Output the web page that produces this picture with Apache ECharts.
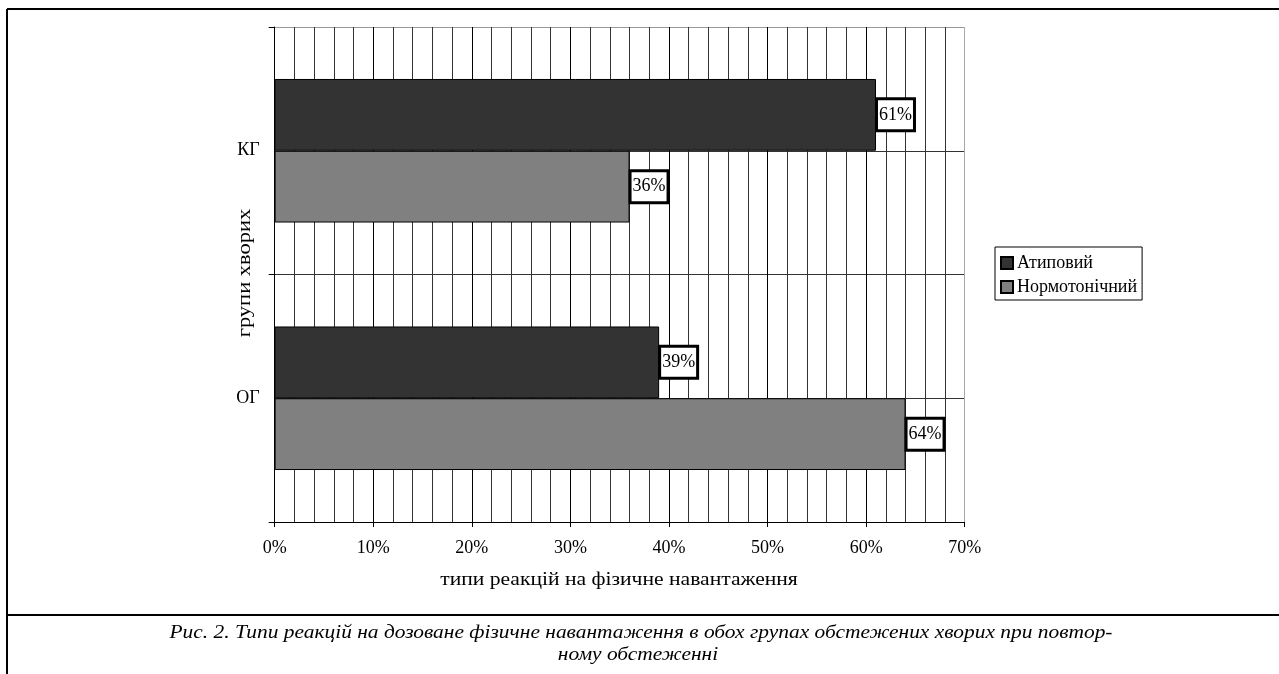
<!DOCTYPE html>
<html>
<head>
<meta charset="utf-8">
<script src="https://cdn.jsdelivr.net/npm/echarts@6/dist/echarts.min.js"></script>
<style>
html,body{margin:0;padding:0;background:#fff;}
#c{width:1279px;height:674px;}
</style>
</head>
<body>
<div id="c"></div>
<script>
const categories = ['ОГ', 'КГ'];
const seriesNames = ['Атиповий', 'Нормотонічний'];
const atypical = [39, 61];
const normotonic = [64, 36];
const xTicks = [0, 10, 20, 30, 40, 50, 60, 70];
const xAxisTitle = 'типи реакцій на фізичне навантаження';
const yAxisTitle = 'групи хворих';
const captionLine1 = 'Рис. 2. Типи реакцій на дозоване фізичне навантаження в обох групах обстежених хворих при повтор-';
const captionLine2 = 'ному обстеженні';

const FONT = '"Liberation Serif", "DejaVu Serif", serif';
const chart = echarts.init(document.getElementById('c'), null, {renderer: 'canvas'});

const labelCfg = {
  show: true,
  position: 'right',
  distance: 2,
  formatter: '{c}%',
  fontFamily: FONT,
  fontSize: 18,
  lineHeight: 20,
  color: '#000',
  backgroundColor: '#fff',
  borderColor: '#000',
  borderWidth: 3,
  padding: [5, 1, 4, 1]
};

chart.setOption({
  animation: false,
  textStyle: {fontFamily: FONT},
  grid: {left: 274.7, right: 314.3, top: 27, bottom: 152, containLabel: false},
  legend: {
    orient: 'vertical',
    left: 995,
    top: 247,
    data: seriesNames,
    icon: 'rect',
    itemWidth: 12,
    itemHeight: 12,
    itemGap: 4,
    padding: [6, 5, 3, 5],
    borderColor: '#000',
    borderWidth: 1,
    borderRadius: 0,
    textStyle: {fontFamily: FONT, fontSize: 18, lineHeight: 20, color: '#000', padding: [0, 0, 0, -1]}
  },
  xAxis: {
    type: 'value',
    min: xTicks[0],
    max: xTicks[xTicks.length - 1],
    interval: 10,
    axisLine: {show: true, lineStyle: {color: '#000', width: 1}},
    axisTick: {show: true, inside: false, length: 5, lineStyle: {color: '#000'}},
    axisLabel: {formatter: '{value}%', fontFamily: FONT, fontSize: 18, color: '#000', margin: 17},
    splitLine: {show: true, lineStyle: {color: ['#000', '#000', '#000', '#000', '#000', '#000', '#000', '#aaa'], width: 1}},
    minorTick: {show: false, splitNumber: 5},
    minorSplitLine: {show: true, lineStyle: {color: '#333', width: 1}}
  },
  yAxis: [
    {
      type: 'category',
      data: categories,
      axisLine: {show: true, lineStyle: {color: '#000', width: 1}},
      axisTick: {show: true, inside: false, length: 6, alignWithLabel: false, lineStyle: {color: '#000'}},
      axisLabel: {fontFamily: FONT, fontSize: 18, color: '#000', margin: 15},
      splitLine: {show: false}
    },
    {
      type: 'value',
      min: 0,
      max: 2,
      interval: 0.5,
      position: 'right',
      axisLine: {show: false},
      axisTick: {show: false},
      axisLabel: {show: false},
      splitLine: {show: true, lineStyle: {color: ['#333', '#333', '#333', '#333', '#999'], width: 1}}
    }
  ],
  series: [
    {
      name: seriesNames[0],
      type: 'bar',
      yAxisIndex: 0,
      data: atypical,
      barGap: '0%',
      barCategoryGap: '42%',
      itemStyle: {color: '#333333', borderColor: '#000', borderWidth: 1},
      label: labelCfg,
      z: 3
    },
    {
      name: seriesNames[1],
      type: 'bar',
      yAxisIndex: 0,
      data: normotonic,
      barGap: '0%',
      barCategoryGap: '42%',
      itemStyle: {color: '#808080', borderColor: '#000', borderWidth: 1},
      label: labelCfg,
      z: 3
    }
  ],
  graphic: [
    {type: 'line', shape: {x1: 7, y1: 9, x2: 1279, y2: 9}, style: {stroke: '#000', lineWidth: 2}},
    {type: 'line', shape: {x1: 7, y1: 9, x2: 7, y2: 674}, style: {stroke: '#000', lineWidth: 2}},
    {type: 'line', shape: {x1: 7, y1: 615, x2: 1279, y2: 615}, style: {stroke: '#000', lineWidth: 2}},
    {type: 'text', x: 619, y: 580, scaleX: 1.2, style: {text: xAxisTitle, font: '18px ' + FONT, fill: '#000', align: 'center', verticalAlign: 'middle'}},
    {type: 'text', x: 245, y: 273, rotation: Math.PI / 2, scaleX: 1.25, style: {text: yAxisTitle, font: '18px ' + FONT, fill: '#000', align: 'center', verticalAlign: 'middle'}},
    {type: 'text', x: 641, y: 633, scaleX: 1.19, style: {text: captionLine1, font: 'italic 18px ' + FONT, fill: '#000', align: 'center', verticalAlign: 'middle'}},
    {type: 'text', x: 638, y: 655, scaleX: 1.19, style: {text: captionLine2, font: 'italic 18px ' + FONT, fill: '#000', align: 'center', verticalAlign: 'middle'}}
  ]
});
</script>
</body>
</html>
